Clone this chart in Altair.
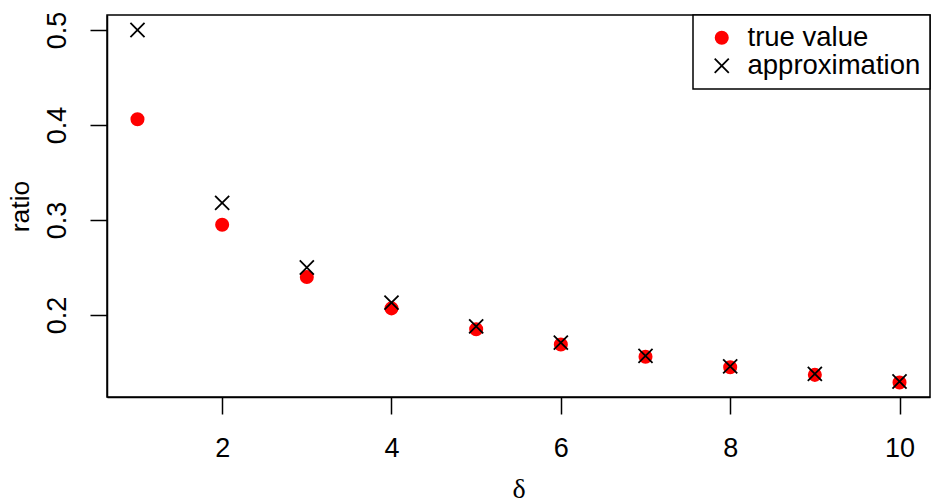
import altair as alt
import pandas as pd

delta = [1, 2, 3, 4, 5, 6, 7, 8, 9, 10]
true_value = [0.406, 0.295, 0.240, 0.207, 0.185, 0.169, 0.156, 0.145, 0.137, 0.129]
approximation = [0.500, 0.318, 0.250, 0.213, 0.188, 0.171, 0.157, 0.146, 0.138, 0.130]
series_names = ["true value", "approximation"]
x_ticks = [2, 4, 6, 8, 10]
y_ticks = [0.2, 0.3, 0.4, 0.5]

rows = []
for name, vals in zip(series_names, [true_value, approximation]):
    for d, v in zip(delta, vals):
        rows.append({"delta": d, "ratio": v, "series": name})
df = pd.DataFrame(rows)

XPATH = "M-1.15,-1.15L1.15,1.15M-1.15,1.15L1.15,-1.15"
FONT = "Liberation Sans"

legend = alt.Legend(
    title=None, orient="top-right", offset=0,
    labelFontSize=27.5, labelFont=FONT, labelColor="black", labelLimit=500,
    symbolSize=150, symbolStrokeWidth=1.8, symbolOffset=6,
    labelOffset=12, padding=9, rowPadding=-6,
    strokeColor="black", fillColor="white",
)

chart = alt.Chart(df).mark_point(strokeWidth=1.8, size=150, opacity=1).encode(
    x=alt.X("delta:Q",
            scale=alt.Scale(domain=[0.64, 10.36], nice=False, zero=False),
            axis=alt.Axis(values=x_ticks, title="δ", titleFont="Liberation Serif",
                          titleFontSize=28, titleFontWeight="normal",
                          titleBaseline="middle", titleY=92,
                          labelFontSize=27, labelPadding=21, labelFlush=False)),
    y=alt.Y("ratio:Q",
            scale=alt.Scale(domain=[0.1137, 0.5158], nice=False, zero=False),
            axis=alt.Axis(values=y_ticks, format=".1f", title="ratio",
                          titleFont=FONT, titleFontSize=26.5, titleFontWeight="normal",
                          titleBaseline="middle", titleX=-87, titleY=191, titleAngle=-90,
                          labelFontSize=27, labelAngle=-90, labelAlign="center",
                          labelBaseline="bottom", labelPadding=19, labelFlush=False)),
    shape=alt.Shape("series:N", scale=alt.Scale(domain=series_names, range=["circle", XPATH]),
                    legend=legend),
    fill=alt.Fill("series:N", scale=alt.Scale(domain=series_names, range=["#ff0000", "transparent"]),
                  legend=legend),
    stroke=alt.Stroke("series:N", scale=alt.Scale(domain=series_names, range=["#ff0000", "#000000"]),
                      legend=legend),
    order=alt.Order("order:Q"),
).transform_calculate(
    order="datum.series == 'true value' ? 0 : 1"
).properties(
    width=823, height=382,
    autosize=alt.AutoSizeParams(type="none"),
    padding={"left": 99, "top": 7, "right": 8, "bottom": 106},
).configure_view(
    stroke="black", strokeWidth=1.5
).configure_axis(
    grid=False, domainColor="black", domainWidth=1.5, tickColor="black",
    tickWidth=1.5, tickSize=17, labelColor="black", titleColor="black",
    labelFont=FONT, titleFont=FONT
).configure_legend(
    strokeWidth=1.5
)

chart.save("out.html", embed_options={"renderer": "svg", "actions": False})
